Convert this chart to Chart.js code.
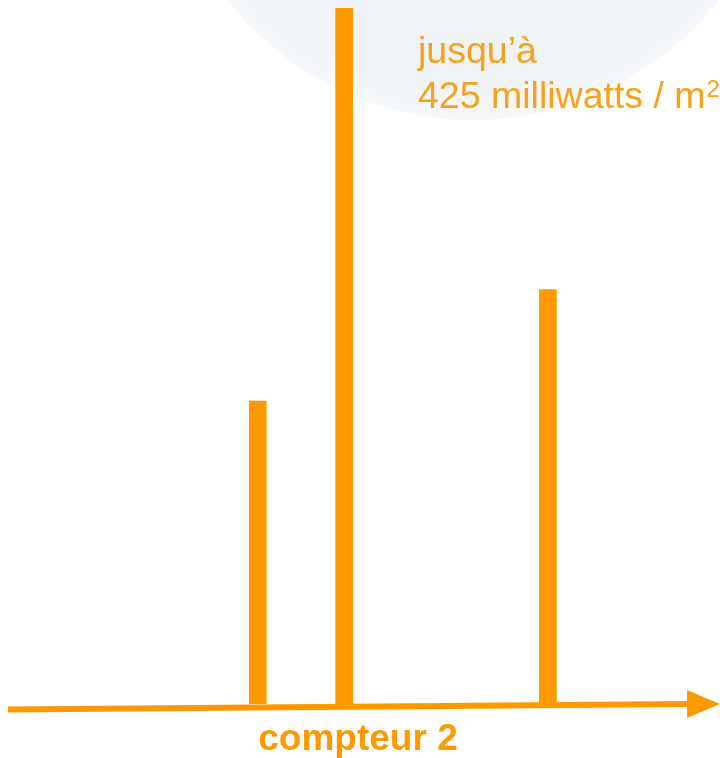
<!DOCTYPE html>
<html>
<head>
<meta charset="utf-8">
<script src="https://cdn.jsdelivr.net/npm/chart.js@4/dist/chart.umd.min.js"></script>
<style>
  html, body { margin: 0; padding: 0; background: #fff; }
  #wrap { width: 720px; height: 758px; position: relative; }
</style>
</head>
<body>
<div id="wrap"><canvas id="chart"></canvas></div>
<script>
// readings along the axis (0-100 units) and their level in milliwatts / m2
const positions = [35.8, 47.8, 76.1];
const levels = [185, 425, 253];
const bases = [0, 0, -7];
const axisTitle = 'compteur 2';
const noteLines = ['jusqu\u2019\u00e0', '425 milliwatts / m'];
const noteSup = '2';

const orange = '#FF9900';
const noteOrange = '#F9A11B';

const globe = {
    id: 'globe',
    beforeDraw(chart) {
        const ctx = chart.ctx;
        ctx.save();
        const g = ctx.createRadialGradient(473, -192, 0, 473, -192, 312);
        g.addColorStop(0, '#edf2f7');
        g.addColorStop(0.9, '#f0f4f8');
        g.addColorStop(1, '#f6f8fb');
        ctx.fillStyle = g;
        ctx.beginPath();
        ctx.arc(473, -192, 312, 0, Math.PI * 2);
        ctx.fill();
        ctx.restore();
    }
};

const decorations = {
    id: 'decorations',
    afterDatasetsDraw(chart) {
        const ctx = chart.ctx;
        const y0 = chart.scales.y.getPixelForValue(0);
        ctx.save();
        // axis line, slightly tilted, with arrow head
        ctx.strokeStyle = orange;
        ctx.lineWidth = 6;
        ctx.beginPath();
        ctx.moveTo(8, y0 + 5.5);
        ctx.lineTo(690, y0);
        ctx.stroke();
        ctx.fillStyle = orange;
        ctx.beginPath();
        ctx.moveTo(687, y0 - 14);
        ctx.lineTo(720, y0);
        ctx.lineTo(687, y0 + 14);
        ctx.closePath();
        ctx.fill();

        // axis title
        ctx.font = 'bold 37px "Liberation Sans", Arial, sans-serif';
        ctx.textAlign = 'center';
        ctx.textBaseline = 'alphabetic';
        ctx.fillText(axisTitle, 358, 750);

        // note next to the tallest bar
        ctx.fillStyle = noteOrange;
        ctx.textAlign = 'left';
        ctx.font = '37.5px "Liberation Sans", Arial, sans-serif';
        ctx.fillText(noteLines[0], 418, 63);
        ctx.fillText(noteLines[1], 418, 108);
        const w = ctx.measureText(noteLines[1]).width;
        ctx.font = '24px "Liberation Sans", Arial, sans-serif';
        ctx.fillText(noteSup, 418 + w + 1, 97);
        ctx.restore();
    }
};

new Chart(document.getElementById('chart'), {
    type: 'bar',
    data: {
        datasets: [{
            data: positions.map((p, i) => ({ x: p, y: [bases[i], levels[i]] })),
            backgroundColor: orange,
            borderWidth: 0,
            barThickness: 17
        }]
    },
    options: {
        responsive: true,
        maintainAspectRatio: false,
        animation: false,
        layout: { padding: { top: 8, bottom: 54, left: 0, right: 0 } },
        plugins: { legend: { display: false }, tooltip: { enabled: false } },
        scales: {
            x: { type: 'linear', min: 0, max: 100, offset: false, display: false },
            y: { min: 0, max: 425, display: false }
        }
    },
    plugins: [globe, decorations]
});
</script>
</body>
</html>
